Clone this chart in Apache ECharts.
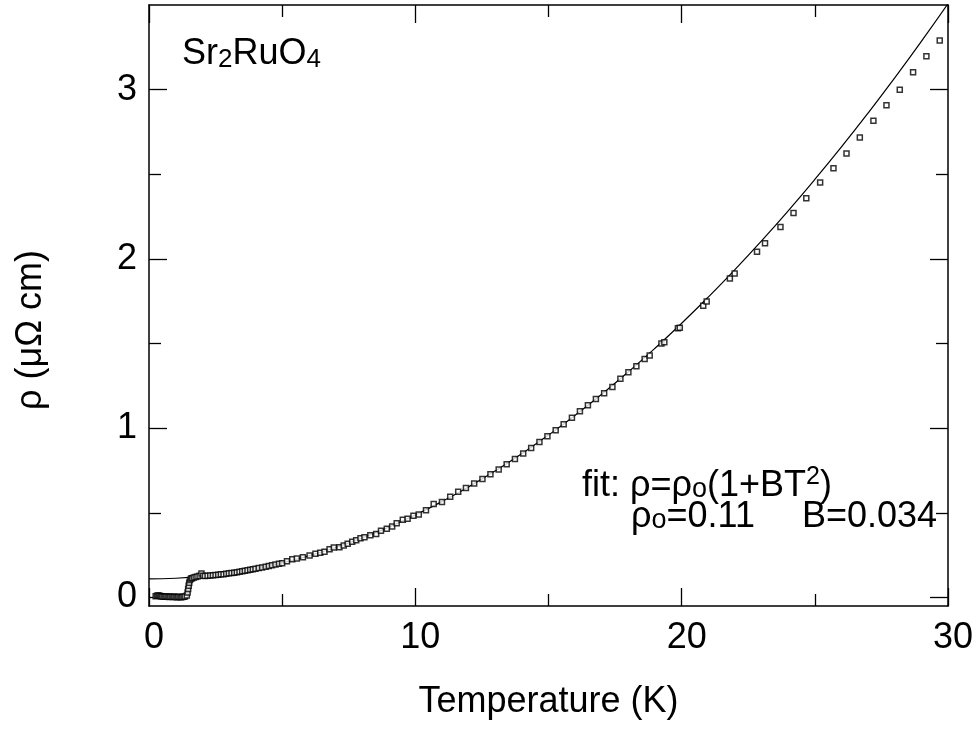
<!DOCTYPE html>
<html><head><meta charset="utf-8">
<script src="https://cdn.jsdelivr.net/npm/echarts@6/dist/echarts.min.js"></script>
<style>html,body{margin:0;padding:0;background:#fff}#c{width:976px;height:733px}</style>
</head><body><div id="c"></div>
<script>
// ---- tick labels ----
const xTickLabels = [0, 10, 20, 30];
const yTickLabels = [0, 1, 2, 3];
const yMinorTicks = [0.5, 1.5, 2.5];

// ---- measured data: temperature (K) and resistivity (µΩ cm) ----
const tempK = [
  0.25,0.30,0.34,0.38,0.42,0.46,0.50,0.55,0.60,0.65,0.70,0.75,0.80,0.85,0.90,0.95,1.00,1.05,1.10,1.15,1.20,1.25,1.30,1.35,
  1.42,1.45,1.47,1.49,1.51,1.54,1.58,
  1.62,1.68,1.75,1.82,1.90,1.97,2.03,2.10,2.20,2.30,2.40,2.50,2.60,2.70,2.80,2.90,3.00,3.10,3.20,3.30,3.40,3.50,3.60,3.70,3.80,3.90,4.00,4.12,4.25,4.38,4.50,4.62,4.75,4.88,
  5.00,5.18,5.38,5.55,5.78,6.03,6.25,6.43,6.59,6.78,6.94,7.15,7.31,7.46,7.63,7.78,7.94,8.09,8.31,8.53,8.71,8.93,9.13,9.30,9.53,9.71,9.93,
  10.13,10.40,10.69,11.00,11.31,11.61,11.90,12.21,12.52,12.82,13.13,13.43,13.74,14.05,14.35,14.66,14.96,15.27,15.57,15.88,16.18,16.48,
  16.78,17.09,17.40,17.70,18.00,18.30,18.61,18.80,19.24,19.35,19.86,19.93,20.81,20.94,21.81,21.99,22.83,23.13,23.71,24.20,
  24.68,25.20,25.70,26.19,26.69,27.20,27.69,28.19,28.69,29.19,29.69
];
const rho = [
  0.008,0.010,0.012,0.011,0.009,0.007,0.006,0.004,0.005,0.006,0.004,0.003,0.005,0.004,0.003,0.004,0.003,0.002,0.004,0.003,0.002,0.003,0.004,0.006,
  0.012,0.030,0.050,0.070,0.088,0.103,0.112,
  0.114,0.118,0.121,0.124,0.128,0.142,0.128,0.127,0.129,0.130,0.132,0.133,0.135,0.137,0.138,0.140,0.143,0.145,0.147,0.149,0.152,0.155,0.158,0.161,0.164,0.167,0.170,0.174,0.178,0.182,0.186,0.190,0.195,0.199,
  0.202,0.214,0.226,0.230,0.238,0.248,0.258,0.264,0.271,0.285,0.295,0.297,0.307,0.317,0.329,0.339,0.350,0.356,0.368,0.376,0.394,0.406,0.420,0.439,0.459,0.465,0.483,
  0.491,0.516,0.552,0.564,0.596,0.625,0.647,0.673,0.700,0.728,0.757,0.787,0.818,0.851,0.884,0.918,0.952,0.988,1.024,1.062,1.100,1.136,
  1.172,1.206,1.243,1.292,1.330,1.366,1.409,1.429,1.500,1.508,1.591,1.593,1.724,1.748,1.884,1.914,2.042,2.093,2.188,2.271,
  2.358,2.451,2.536,2.623,2.718,2.816,2.908,3.000,3.103,3.198,3.290
];

// ---- fit curve ----
const fitT = [0,1,2,3,4,5,6,7,8,9,10,11,12,13,14,15,16,17,18,19,20,21,22,23,24,25,26,27,28,29,30];
const fitRho = [0.110,0.1138,0.1251,0.1440,0.1704,0.2044,0.2459,0.2950,0.3516,0.4158,0.4875,0.5668,0.6536,0.7480,0.8499,
  0.9594,1.0764,1.2010,1.3331,1.4728,1.6200,1.7748,1.9371,2.1070,2.2844,2.4694,2.6619,2.8620,3.0696,3.2848,3.5075];

const FONT = "'Liberation Sans', Arial, sans-serif";
const chart = echarts.init(document.getElementById('c'), null, {renderer: 'canvas'});

const lineStyle = {color: '#000', width: 1.5};
function xAxisDef(pos, labels) {
  return {
    type: 'value', position: pos, min: 0, max: 30, interval: 10,
    axisLine: {show: true, onZero: false, lineStyle: lineStyle},
    axisTick: {show: true, inside: true, length: 18, lineStyle: {color: '#000', width: 1.3}},
    minorTick: {show: true, splitNumber: 2, length: 12, lineStyle: {color: '#000', width: 1.3}},
    splitLine: {show: false}, minorSplitLine: {show: false},
    axisLabel: labels ? {show: true, fontSize: 36, color: '#000', fontFamily: FONT, margin: 14, padding: [0,0,0,10],
      customValues: xTickLabels} : {show: false},
    name: labels ? 'Temperature (K)' : '', nameLocation: 'middle', nameGap: 78,
    nameTextStyle: {fontSize: 36, color: '#000', fontFamily: FONT}
  };
}
function yAxisDef(pos, ticks, len, labels, line) {
  return {
    type: 'value', position: pos, min: -0.05, max: 3.5,
    axisLine: {show: line, onZero: false, lineStyle: lineStyle},
    axisTick: {show: true, inside: true, length: len, customValues: ticks, lineStyle: {color: '#000', width: 1.3}},
    splitLine: {show: false},
    axisLabel: labels ? {show: true, fontSize: 36, color: '#000', fontFamily: FONT, margin: 12,
      customValues: yTickLabels} : {show: false}
  };
}

const base = {fill: '#000', fontFamily: FONT, fontSize: 36, lineHeight: 44};
const sub = {fill: '#000', fontFamily: FONT, fontSize: 26, lineHeight: 26, padding: [12,0,0,0]};
const subo = {fill: '#000', fontFamily: FONT, fontSize: 27, lineHeight: 27, padding: [8,0,0,0]};
const sup = {fill: '#000', fontFamily: FONT, fontSize: 25, lineHeight: 25, padding: [0,0,18,0]};

chart.setOption({
  backgroundColor: '#fff',
  animation: false,
  grid: {left: 149, right: 27, top: 5, bottom: 127, containLabel: false},
  xAxis: [xAxisDef('bottom', true), xAxisDef('top', false)],
  yAxis: [
    yAxisDef('left', yTickLabels, 18, true, true),
    yAxisDef('left', yMinorTicks, 12, false, false),
    yAxisDef('right', yTickLabels, 18, false, true),
    yAxisDef('right', yMinorTicks, 12, false, false)
  ],
  series: [
    {type: 'line', xAxisIndex: 0, yAxisIndex: 0, data: fitT.map((t, i) => [t, fitRho[i]]),
     smooth: true, showSymbol: false, clip: true, lineStyle: {color: '#000', width: 1.2}, z: 2},
    {type: 'scatter', xAxisIndex: 0, yAxisIndex: 0, data: tempK.map((t, i) => [t, rho[i]]),
     symbol: 'rect', symbolSize: 5, itemStyle: {color: '#fff', borderColor: '#000', borderWidth: 1.5}, z: 3}
  ],
  graphic: [
    {type: 'text', x: 31, y: 330, rotation: Math.PI / 2,
     style: {text: 'ρ (μΩ cm)', fill: '#000', font: '36px ' + FONT, align: 'center', verticalAlign: 'middle'}},
    {type: 'text', x: 182, y: 32, style: {text: '{a|Sr}{s|2}{a|RuO}{s|4}', rich: {a: base, s: sub}}},
    {type: 'text', x: 582, y: 464, style: {text: '{a|fit: ρ=ρ}{o|o}{a|(1+BT}{p|2}{a|)}', rich: {a: base, o: subo, p: sup}}},
    {type: 'text', x: 631, y: 495, style: {text: '{a|ρ}{o|o}{a|=0.11}', rich: {a: base, o: subo}}},
    {type: 'text', x: 937, y: 495, style: {text: '{a|B=0.034}', align: 'right', rich: {a: base}}}
  ]
});
</script>
</body></html>
